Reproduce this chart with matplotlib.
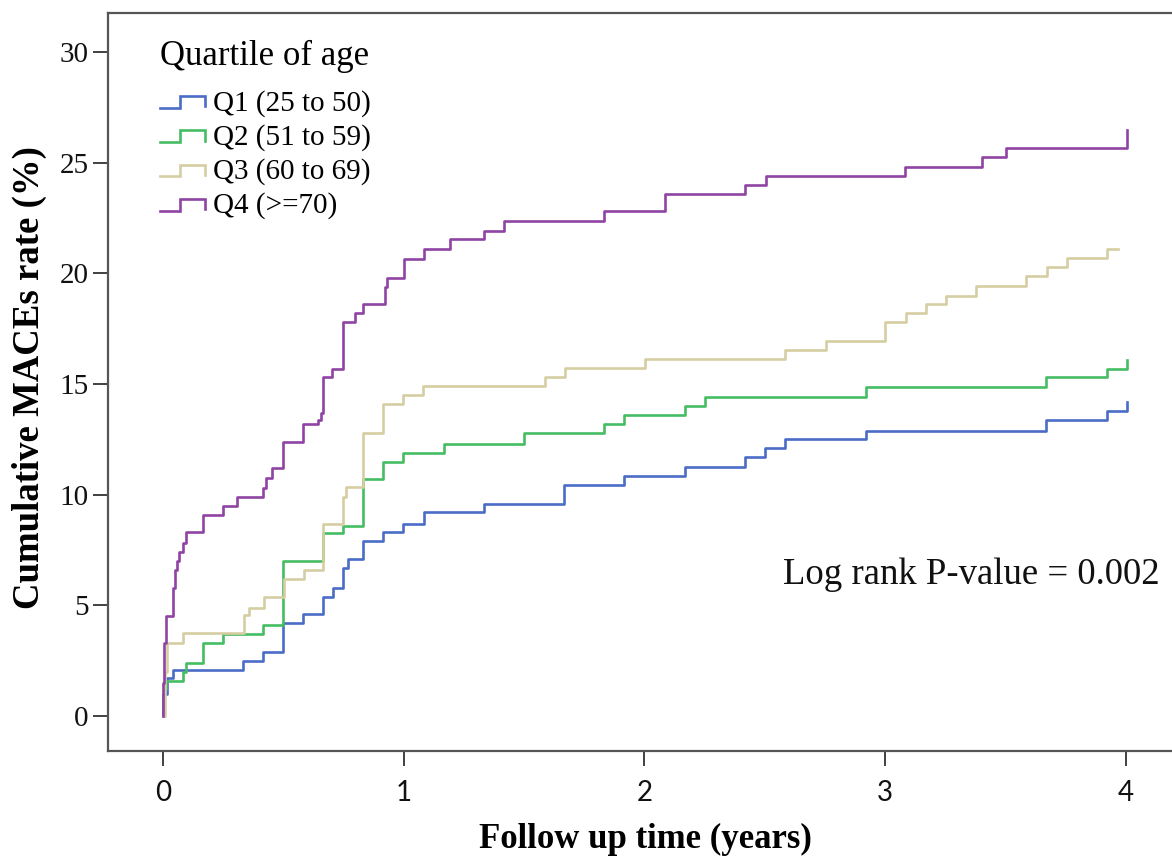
import matplotlib
matplotlib.use("Agg")
import matplotlib.pyplot as plt
from matplotlib.lines import Line2D
from matplotlib.legend_handler import HandlerBase

# ---------------- data (years, cumulative %) ----------------
q1_t = [0, 0.002, 0.017, 0.042, 0.332, 0.415, 0.499, 0.582, 0.665, 0.706, 0.748, 0.769,
        0.831, 0.914, 0.997, 1.084, 1.334, 1.666, 1.915, 2.169, 2.418, 2.501, 2.584,
        2.921, 3.668, 3.922, 4.005]
q1_y = [0, 1.0, 1.7, 2.1, 2.5, 2.9, 4.2, 4.6, 5.4, 5.8, 6.7, 7.1,
        7.9, 8.3, 8.7, 9.2, 9.6, 10.45, 10.85, 11.25, 11.7, 12.1, 12.5,
        12.9, 13.4, 13.8, 14.2]

q2_t = [0, 0.004, 0.012, 0.083, 0.096, 0.166, 0.249, 0.415, 0.499, 0.665, 0.748, 0.831,
        0.914, 0.997, 1.167, 1.500, 1.832, 1.915, 2.169, 2.252, 2.921, 3.668, 3.922, 4.005]
q2_y = [0, 1.2, 1.6, 2.0, 2.4, 3.3, 3.7, 4.1, 7.0, 8.25, 8.6, 10.7,
        11.5, 11.9, 12.3, 12.8, 13.2, 13.6, 14.0, 14.4, 14.85, 15.3, 15.7, 16.1]

q3_t = [0, 0.008, 0.017, 0.083, 0.337, 0.357, 0.420, 0.503, 0.586, 0.665, 0.748, 0.760,
        0.831, 0.914, 0.997, 1.080, 1.587, 1.670, 2.002, 2.584, 2.754, 3.000, 3.087,
        3.170, 3.253, 3.378, 3.585, 3.673, 3.756, 3.922, 3.968]
q3_y = [0, 2.0, 3.3, 3.75, 4.55, 4.9, 5.4, 6.2, 6.6, 8.7, 9.9, 10.35,
        12.8, 14.1, 14.5, 14.9, 15.3, 15.75, 16.15, 16.55, 16.95, 17.8, 18.2,
        18.6, 19.0, 19.45, 19.9, 20.3, 20.7, 21.1, 21.1]

q4_t = [0, 0.001, 0.004, 0.012, 0.040, 0.050, 0.058, 0.066, 0.083, 0.096, 0.166, 0.249,
        0.307, 0.415, 0.428, 0.453, 0.499, 0.582, 0.644, 0.656, 0.665, 0.702, 0.748,
        0.798, 0.831, 0.922, 0.931, 1.001, 1.084, 1.192, 1.334, 1.417, 1.832, 2.086,
        2.418, 2.505, 3.083, 3.403, 3.502, 4.005]
q4_y = [0, 1.5, 3.3, 4.5, 5.8, 6.6, 7.0, 7.4, 7.8, 8.3, 9.1, 9.5,
        9.9, 10.3, 10.75, 11.2, 12.4, 13.2, 13.4, 13.7, 15.3, 15.7, 17.8,
        18.2, 18.6, 19.4, 19.8, 20.65, 21.1, 21.55, 21.9, 22.35, 22.8, 23.6,
        24.0, 24.4, 24.8, 25.25, 25.65, 26.5]

labels = ["Q1 (25 to 50)", "Q2 (51 to 59)", "Q3 (60 to 69)", "Q4 (>=70)"]
colors = ["#4a6cc6", "#45bd62", "#d5cea2", "#8f43a3"]
x_ticks = [0, 1, 2, 3, 4]
y_ticks = [0, 5, 10, 15, 20, 25, 30]

SERIF = ["Liberation Serif", "DejaVu Serif"]


class StepHandler(HandlerBase):
    def create_artists(self, legend, orig_handle, xdescent, ydescent, width, height,
                       fontsize, trans):
        x0 = -xdescent
        lo = -ydescent + 0.12 * height
        hi = -ydescent + 0.70 * height
        xs = [x0, x0 + 0.45 * width, x0 + 0.45 * width, x0 + width, x0 + width]
        ys = [lo, lo, hi, hi, lo + 0.08 * height]
        ln = Line2D(xs, ys, color=orig_handle.get_color(),
                    linewidth=orig_handle.get_linewidth(), solid_joinstyle="miter")
        ln.set_transform(trans)
        return [ln]


fig = plt.figure(figsize=(11.72, 8.56), dpi=100)
ax = fig.add_axes([108 / 1172, (856 - 751) / 856, 1078 / 1172, (751 - 13) / 856])

handles = []
for t, y, c, lab in zip([q1_t, q2_t, q3_t, q4_t], [q1_y, q2_y, q3_y, q4_y], colors, labels):
    h, = ax.step(t, y, where="post", color=c, linewidth=1.9, label=lab)
    handles.append(h)

ax.set_xlim(-0.228, 4.25)
ax.set_ylim(-1.58, 31.77)
ax.set_xticks(x_ticks)
ax.set_yticks(y_ticks)
ax.set_xticklabels([str(v) for v in x_ticks], fontfamily=["Lato", "DejaVu Sans"], fontsize=20)
ax.set_yticklabels([str(v) for v in y_ticks], fontfamily=SERIF, fontsize=21)
ax.tick_params(axis="both", direction="out", length=11, width=1.3, color="#333333",
               labelcolor="#111111")
ax.tick_params(axis="x", pad=10)
ax.tick_params(axis="y", pad=3)

for s in ["left", "bottom", "top", "right"]:
    ax.spines[s].set_color("#555555")
    ax.spines[s].set_linewidth(1.6)

ax.set_xlabel("Follow up time (years)", fontfamily=SERIF, fontsize=25,
              fontweight="bold")
ax.set_ylabel("Cumulative MACEs rate (%)", fontfamily=SERIF, fontsize=26.5,
              fontweight="bold")
ax.xaxis.set_label_coords((645 - 108) / 1078, -(823 - 751) / 738)
ax.yaxis.set_label_coords(-(108 - 47) / 1078, (751 - 378) / 738)

ax.text(4.142, 6.37, "Log rank P-value = 0.002", fontfamily=SERIF, fontsize=26.5,
        ha="right", va="center", color="#111111")

leg = ax.legend(handles=handles, labels=labels, loc="upper left",
                bbox_to_anchor=((160 - 108) / 1078, (751 - 40) / 738),
                frameon=False, title="Quartile of age",
                prop={"family": SERIF, "size": 21},
                title_fontproperties={"family": SERIF, "size": 25},
                handler_map={Line2D: StepHandler()},
                handlelength=1.55, handleheight=0.7, handletextpad=0.28,
                labelspacing=0.25, borderaxespad=0, borderpad=0,
                alignment="left")
leg._legend_box.sep = 12

fig.savefig("out.png", dpi=100)
